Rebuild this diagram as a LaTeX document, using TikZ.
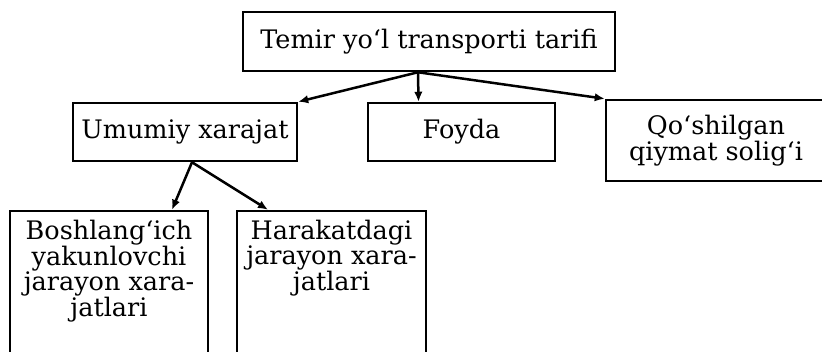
\documentclass[tikz,border=0pt]{standalone}
\usepackage{fontspec}
\setmainfont{DejaVu Serif}
\usetikzlibrary{arrows.meta}
\tikzset{
  box/.style={draw, line width=2.5pt, inner sep=0pt, anchor=center},
  lbl/.style={inner sep=0pt, align=center, font=\fontsize{25.5}{22}\selectfont},
  arr/.style={line width=2.5pt, -{Latex[length=10pt,width=8.5pt]}}
}
\begin{document}
\begin{tikzpicture}[x=1pt,y=-1pt]
\useasboundingbox (0,0) rectangle (822,351);
\clip (0,0) rectangle (822,351);
% boxes
\node[box, minimum width=372pt, minimum height=59pt] (top) at (429,41.5) {};
\node[lbl] (toptxt) at (top.center) {Temir yo‘l transporti tarifi};
\node[box, minimum width=224pt, minimum height=58pt] (umumiy) at (185,132) {};
\node[lbl] (umumiytxt) at (umumiy.center) {Umumiy xarajat};
\node[box, minimum width=187pt, minimum height=58pt] (foyda) at (461.5,132) {};
\node[lbl] (foydatxt) at (foyda.center) {Foyda};
\node[box, minimum width=220pt, minimum height=81pt] (qosh) at (716,140.5) {};
\node[lbl] (qoshtxt) at (qosh.center) {Qo‘shilgan\\qiymat solig‘i};
\node[box, minimum width=198pt, minimum height=200pt] (bosh) at (109,311) {};
\node[lbl, anchor=north] (boshtxt) at ([yshift=-10pt]bosh.north) {Boshlang‘ich\\yakunlovchi\\jarayon xara-\\jatlari};
\node[box, minimum width=189pt, minimum height=200pt] (harakat) at (331.5,311) {};
\node[lbl, anchor=north] (harakattxt) at ([yshift=-10pt]harakat.north) {Harakatdagi\\jarayon xara-\\jatlari};
% connectors
\draw[arr] ([xshift=-11pt]top.south) -- (umumiy.north east);
\draw[arr] ([xshift=-11pt]top.south) -- ([xshift=-43pt]foyda.north);
\draw[arr] ([xshift=-11pt]top.south) -- (qosh.north west);
\draw[arr] ([xshift=7pt]umumiy.south) -- ([xshift=63pt]bosh.north);
\draw[arr] ([xshift=7pt]umumiy.south) -- ([xshift=-63.5pt]harakat.north);
\end{tikzpicture}
\end{document}
